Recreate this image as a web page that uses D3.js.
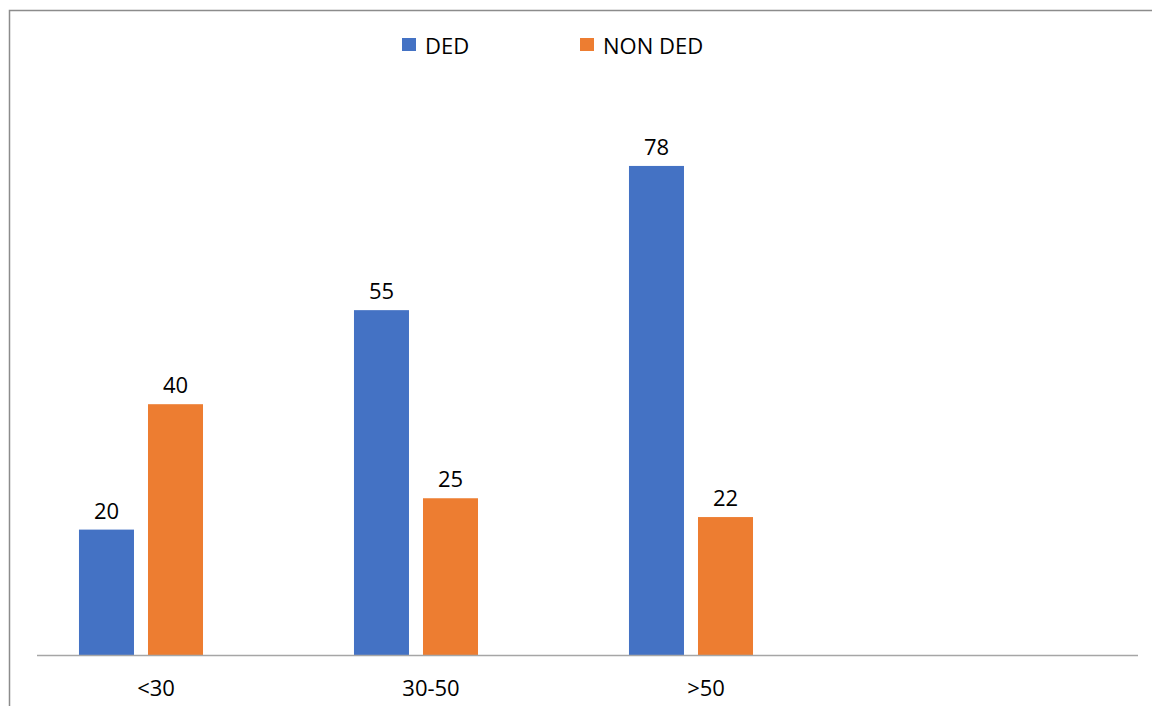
<!DOCTYPE html>
<html>
<head>
<meta charset="utf-8">
<script src="https://cdn.jsdelivr.net/npm/d3@7"></script>
<style>
  html, body { margin: 0; padding: 0; background: #fff; }
  svg { display: block; font-family: "Open Sans", sans-serif; }
</style>
</head>
<body>
<svg id="chart" width="1152" height="706"></svg>
<script>
const categories = ["<30", "30-50", ">50", ""];
const seriesNames = ["DED", "NON DED", ""];
const dedValues = [20, 55, 78, null];
const nonDedValues = [40, 25, 22, null];
const seriesColors = ["#4472C4", "#ED7D31"];

const svg = d3.select("#chart");
const W = 1152, H = 706;

// chart area border (only top & left visible in crop)
svg.append("rect")
  .attr("x", 9.5).attr("y", 10.5)
  .attr("width", W + 20).attr("height", H + 20)
  .attr("fill", "none").attr("stroke", "#8c8c8c").attr("stroke-width", 1.5);

const plotLeft = 38, plotRight = 1138, baseline = 655;

const x0 = d3.scaleBand().domain(categories)
  .range([plotLeft, plotRight])
  .paddingInner(0.298).paddingOuter(0.149);
const x1 = d3.scaleBand().domain(seriesNames.map((d, i) => i))
  .range([0, x0.bandwidth()])
  .paddingInner(0.203).paddingOuter(0);
const y = d3.scaleLinear().domain([0, 90]).range([baseline, baseline - 90 * 6.27]);

const data = [];
categories.forEach((c, ci) => {
  [dedValues, nonDedValues].forEach((arr, si) => {
    if (arr[ci] != null) data.push({ cat: c, s: si, v: arr[ci] });
  });
});

svg.append("g").selectAll("rect").data(data).join("rect")
  .attr("x", d => x0(d.cat) + x1(d.s))
  .attr("y", d => y(d.v))
  .attr("width", x1.bandwidth())
  .attr("height", d => y(0) - y(d.v))
  .attr("fill", d => seriesColors[d.s]);

svg.append("g").selectAll("text").data(data).join("text")
  .attr("x", d => x0(d.cat) + x1(d.s) + x1.bandwidth() / 2)
  .attr("y", d => y(d.v) - 11)
  .attr("text-anchor", "middle")
  .attr("font-size", 22)
  .attr("fill", "#000")
  .text(d => d.v);

// axis line
svg.append("line")
  .attr("x1", plotLeft - 1).attr("x2", plotRight)
  .attr("y1", y(0) + 0.5).attr("y2", y(0) + 0.5)
  .attr("stroke", "#a6a6a6").attr("stroke-width", 1.5);

// category labels
svg.append("g").selectAll("text").data(categories.filter(c => c !== "")).join("text")
  .attr("x", d => x0(d) + x0.bandwidth() / 2 - 19.5)
  .attr("y", 696)
  .attr("text-anchor", "middle")
  .attr("font-size", 22)
  .attr("fill", "#000")
  .text(d => d);

// legend
const legendItems = [
  { name: seriesNames[0], color: seriesColors[0], x: 402 },
  { name: seriesNames[1], color: seriesColors[1], x: 580 }
];
const lg = svg.append("g").selectAll("g").data(legendItems).join("g")
  .attr("transform", d => `translate(${d.x},38)`);
lg.append("rect").attr("width", 14).attr("height", 13).attr("fill", d => d.color);
lg.append("text").attr("x", 23).attr("y", 16)
  .attr("font-size", 22).attr("fill", "#000").text(d => d.name);
</script>
</body>
</html>
